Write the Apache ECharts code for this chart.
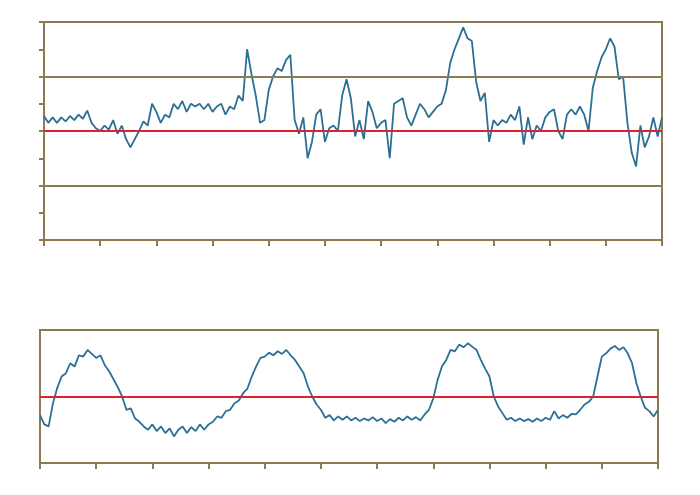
<!DOCTYPE html>
<html>
<head>
<meta charset="utf-8">
<script src="https://cdn.jsdelivr.net/npm/echarts@6/dist/echarts.min.js"></script>
<style>html,body{margin:0;background:#fff}#main{width:700px;height:495px}</style>
</head>
<body>
<div id="main"></div>
<script>
// upper trace, 144 evenly spaced samples
var topValues = [0.55,0.3,0.5,0.3,0.5,0.35,0.55,0.4,0.6,0.45,0.75,0.3,0.1,0.0,0.2,0.05,0.4,-0.1,0.2,-0.3,
  -0.6,-0.3,0.0,0.35,0.2,1.0,0.7,0.3,0.6,0.5,1.0,0.8,1.1,0.7,1.0,0.9,1.0,0.8,1.0,0.7,
  0.9,1.0,0.6,0.9,0.8,1.3,1.1,3.0,2.1,1.3,0.3,0.4,1.5,2.0,2.3,2.2,2.6,2.8,0.4,-0.1,
  0.5,-1.0,-0.4,0.6,0.8,-0.4,0.1,0.2,0.0,1.3,1.9,1.2,-0.2,0.4,-0.3,1.1,0.7,0.1,0.3,0.4,
  -1.0,1.0,1.1,1.2,0.5,0.2,0.6,1.0,0.8,0.5,0.7,0.9,1.0,1.5,2.5,3.0,3.4,3.8,3.4,3.3,
  1.8,1.1,1.4,-0.4,0.4,0.2,0.4,0.3,0.6,0.4,0.9,-0.5,0.5,-0.3,0.2,0.0,0.5,0.7,0.8,0.0,
  -0.3,0.6,0.8,0.6,0.9,0.6,0.0,1.6,2.2,2.7,3.0,3.4,3.1,1.9,2.0,0.3,-0.8,-1.3,0.2,-0.6,
  -0.2,0.5,-0.2,0.5];
// lower trace, 144 evenly spaced samples
var bottomValues = [-0.28,-0.42,-0.45,-0.1,0.13,0.3,0.35,0.5,0.45,0.62,0.6,0.7,0.64,0.58,0.62,0.47,0.38,0.26,0.14,0.0,
  -0.2,-0.18,-0.33,-0.38,-0.45,-0.5,-0.42,-0.52,-0.45,-0.55,-0.48,-0.6,-0.5,-0.45,-0.55,-0.46,-0.52,-0.42,-0.5,-0.42,
  -0.38,-0.3,-0.32,-0.22,-0.2,-0.1,-0.06,0.05,0.12,0.3,0.45,0.58,0.6,0.66,0.62,0.68,0.64,0.7,0.62,0.55,
  0.45,0.35,0.15,0.0,-0.12,-0.2,-0.32,-0.28,-0.36,-0.3,-0.35,-0.3,-0.36,-0.32,-0.37,-0.33,-0.36,-0.31,-0.37,-0.33,
  -0.4,-0.34,-0.38,-0.32,-0.36,-0.3,-0.35,-0.31,-0.36,-0.27,-0.2,-0.03,0.25,0.45,0.55,0.7,0.68,0.78,0.74,0.8,
  0.75,0.7,0.55,0.42,0.3,0.0,-0.15,-0.25,-0.35,-0.32,-0.37,-0.33,-0.37,-0.34,-0.38,-0.33,-0.37,-0.32,-0.35,-0.22,
  -0.33,-0.28,-0.32,-0.26,-0.27,-0.2,-0.12,-0.08,0.0,0.3,0.6,0.65,0.72,0.76,0.7,0.74,0.65,0.5,0.2,0.0,
  -0.17,-0.22,-0.3,-0.2];
var topGridLines = [2, -2];
var zeroLine = 0;

var frame = '#8c7a52', lineColor = '#2b6f95', red = '#d92232';
function pairs(arr) { return arr.map(function (v, i) { return [i, v]; }); }
function xAxisFor(idx) {
    return {
        type: 'value', gridIndex: idx, min: 0, max: 143, interval: 13,
        axisLine: {show: true, onZero: false, lineStyle: {color: frame, width: 2}},
        axisTick: {show: true, inside: false, length: 6, lineStyle: {color: frame, width: 2}},
        axisLabel: {show: false}, splitLine: {show: false}
    };
}
var myChart = echarts.init(document.getElementById('main'));
myChart.setOption({
    animation: false,
    grid: [
        {left: 44, top: 22, width: 618, height: 218, show: true, borderColor: frame, borderWidth: 2},
        {left: 40, top: 330, width: 618, height: 133, show: true, borderColor: frame, borderWidth: 2}
    ],
    xAxis: [xAxisFor(0), xAxisFor(1)],
    yAxis: [
        {type: 'value', gridIndex: 0, min: -4, max: 4, interval: 1,
         axisLine: {show: true, onZero: false, lineStyle: {color: frame, width: 2}},
         axisTick: {show: true, length: 5, lineStyle: {color: frame, width: 2}},
         axisLabel: {show: false}, splitLine: {show: false}},
        {type: 'value', gridIndex: 1, min: -1, max: 1,
         axisLine: {show: true, onZero: false, lineStyle: {color: frame, width: 2}},
         axisTick: {show: false}, axisLabel: {show: false}, splitLine: {show: false}}
    ],
    series: [
        {type: 'line', xAxisIndex: 0, yAxisIndex: 0, data: pairs(topValues), showSymbol: false,
         lineStyle: {color: lineColor, width: 1.8}, z: 3,
         markLine: {silent: true, symbol: 'none', label: {show: false}, animation: false,
            data: topGridLines.map(function (v) { return {yAxis: v, lineStyle: {color: frame, width: 2, type: 'solid'}}; })
                .concat([{yAxis: zeroLine, lineStyle: {color: red, width: 2, type: 'solid'}}])}},
        {type: 'line', xAxisIndex: 1, yAxisIndex: 1, data: pairs(bottomValues), showSymbol: false,
         lineStyle: {color: lineColor, width: 1.8}, z: 3,
         markLine: {silent: true, symbol: 'none', label: {show: false}, animation: false,
            data: [{yAxis: zeroLine, lineStyle: {color: red, width: 2, type: 'solid'}}]}}
    ]
});
</script>
</body>
</html>
